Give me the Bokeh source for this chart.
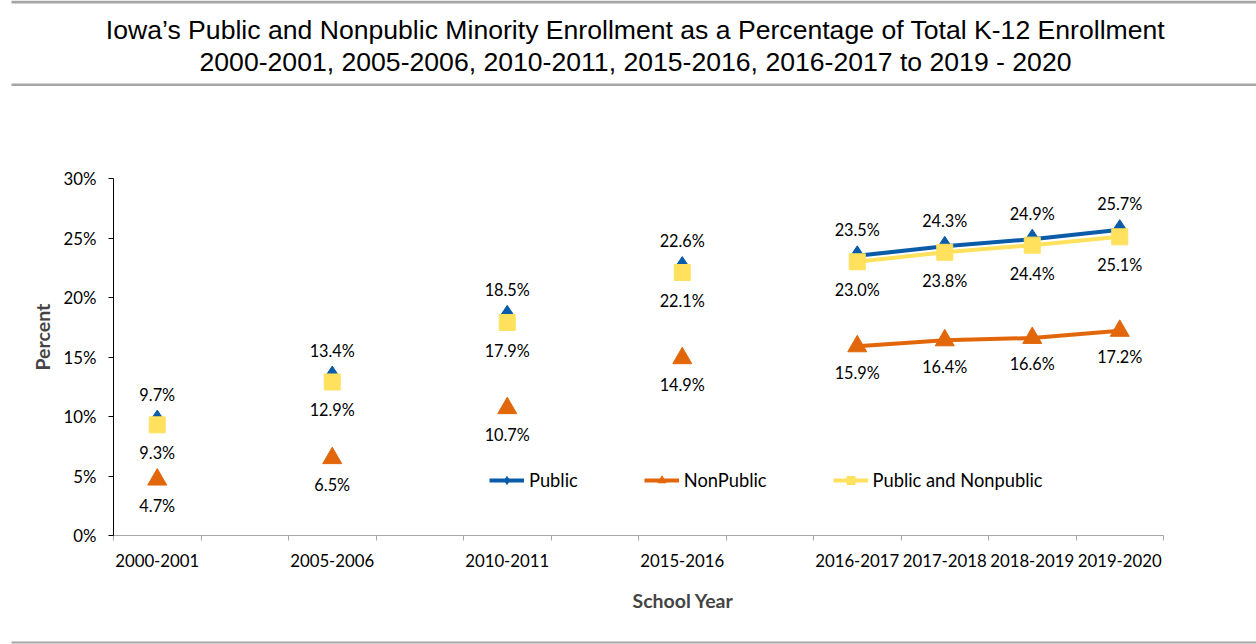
from bokeh.plotting import figure
from bokeh.models import (FixedTicker, PrintfTickFormatter, Legend, LegendItem,
                          ColumnDataSource, Title)
from bokeh.layouts import column
from bokeh.embed import file_html
from bokeh.resources import INLINE
from bokeh.core.properties import value
import numpy as np

# ---- data (blank categories act as gaps, as in the source spreadsheet) ----
categories = ["2000-2001", "", "2005-2006", "", "2010-2011", "", "2015-2016", "",
              "2016-2017", "2017-2018", "2018-2019", "2019-2020"]
public = [9.7, None, 13.4, None, 18.5, None, 22.6, None, 23.5, 24.3, 24.9, 25.7]
nonpublic = [4.7, None, 6.5, None, 10.7, None, 14.9, None, 15.9, 16.4, 16.6, 17.2]
combined = [9.3, None, 12.9, None, 17.9, None, 22.1, None, 23.0, 23.8, 24.4, 25.1]
y_ticks = [0, 5, 10, 15, 20, 25, 30]

title_lines = ["Iowa’s Public and Nonpublic Minority Enrollment as a Percentage of Total K-12 Enrollment",
               "2000-2001, 2005-2006, 2010-2011, 2015-2016, 2016-2017 to 2019 - 2020"]

BLUE = "#0B5CA8"
ORANGE = "#E2670A"
YELLOW = "#FFE15E"
GRAY = "#A6A6A6"
FONT = "Lato"
W = 1256


def bare(h):
    f = figure(width=W, height=h, output_backend="svg", toolbar_location=None,
               x_range=(0, W), y_range=(h, 0), min_border=0)
    f.axis.visible = False
    f.grid.grid_line_color = None
    f.outline_line_color = None
    f.frame_align = False
    return f


# ---- title band ----
tf = bare(86)
tf.segment(x0=[11, 11], y0=[1.5, 84.5], x1=[W, W], y1=[1.5, 84.5],
           line_color=GRAY, line_width=3)
tsrc = ColumnDataSource(dict(x=[635, 635], y=[29.5, 61.5], t=title_lines))
tf.text("x", "y", text="t", source=tsrc, text_align="center", text_baseline="middle",
        text_font=value("Liberation Sans"), text_font_size="26.6px", text_color="#000000")

# ---- main chart ----
n = len(categories)
xs = np.arange(n) + 0.5


def arr(v):
    return np.array([np.nan if a is None else a for a in v], dtype=float)


p = figure(width=W, height=545, output_backend="svg", toolbar_location=None,
           x_range=(0, n), y_range=(0, 30),
           min_border_left=113, min_border_right=93, min_border_top=92, min_border_bottom=96)
p.frame_align = False
p.outline_line_color = None
p.grid.grid_line_color = None

label_pos = [float(x) for x, c in zip(xs, categories) if c]
p.xaxis.ticker = FixedTicker(ticks=label_pos, minor_ticks=list(range(n + 1)))
p.xaxis.major_label_overrides = {float(x): c for x, c in zip(xs, categories) if c}
p.xaxis.major_tick_line_color = None
p.xaxis.major_tick_out = 0
p.xaxis.minor_tick_out = 5
p.xaxis.minor_tick_in = 0
p.xaxis.minor_tick_line_color = GRAY
p.xaxis.axis_line_color = GRAY
p.xaxis.major_label_standoff = 13
p.xaxis.major_label_text_font = FONT
p.xaxis.major_label_text_font_size = "16.8px"
p.xaxis.major_label_text_color = "#000000"

p.yaxis.ticker = FixedTicker(ticks=y_ticks, minor_ticks=[])
p.yaxis.formatter = PrintfTickFormatter(format="%d%%")
p.yaxis.axis_line_color = "#000000"
p.yaxis.major_tick_line_color = "#000000"
p.yaxis.major_tick_out = 5
p.yaxis.major_tick_in = 0
p.yaxis.major_label_standoff = 12
p.yaxis.major_label_text_font = FONT
p.yaxis.major_label_text_font_size = "16.8px"
p.yaxis.major_label_text_color = "#000000"

p.add_layout(Title(text="School Year", align="left", offset=519, text_font=FONT,
                   text_font_size="19.5px", text_font_style="bold", standoff=34), "below")
p.add_layout(Title(text="Percent", align="left", offset=165, text_font=FONT,
                   text_font_size="19.5px", text_font_style="bold", standoff=14), "left")

series = [
    ("Public", public, BLUE, "diamond", 20, -26),
    ("NonPublic", nonpublic, ORANGE, "triangle", 19, 26),
    ("Public and Nonpublic", combined, YELLOW, "square", 16, 28),
]

items = []
for name, vals, color, marker, size, yoff in series:
    y = arr(vals)
    src = ColumnDataSource(dict(x=xs, y=y))
    ln = p.line("x", "y", source=src, line_color=color, line_width=4)
    sc = p.scatter("x", "y", source=src, marker=marker, size=size,
                   fill_color=color, line_color=color)
    mask = ~np.isnan(y)
    lab = ColumnDataSource(dict(x=xs[mask], y=y[mask],
                                t=[f"{v:.1f}%" for v in y[mask]]))
    p.text("x", "y", text="t", source=lab, text_align="center", text_baseline="middle",
           y_offset=yoff, text_font=value(FONT), text_font_size="16.3px", text_color="#000000")
    items.append(LegendItem(label=name, renderers=[ln, sc]))

legend = Legend(items=items, orientation="horizontal", location=(376, 44),
                spacing=66, glyph_width=35, glyph_height=20, label_standoff=5,
                padding=0, margin=0, border_line_color=None, background_fill_alpha=0,
                label_text_font=FONT, label_text_font_size="18.3px", label_text_color="#000000")
p.add_layout(legend, "center")

# ---- bottom rule ----
bf = bare(13)
bf.segment(x0=[11], y0=[11], x1=[W], y1=[11], line_color=GRAY, line_width=2)

layout = column(tf, p, bf, spacing=0)
open("out.html", "w").write(file_html(layout, INLINE))
